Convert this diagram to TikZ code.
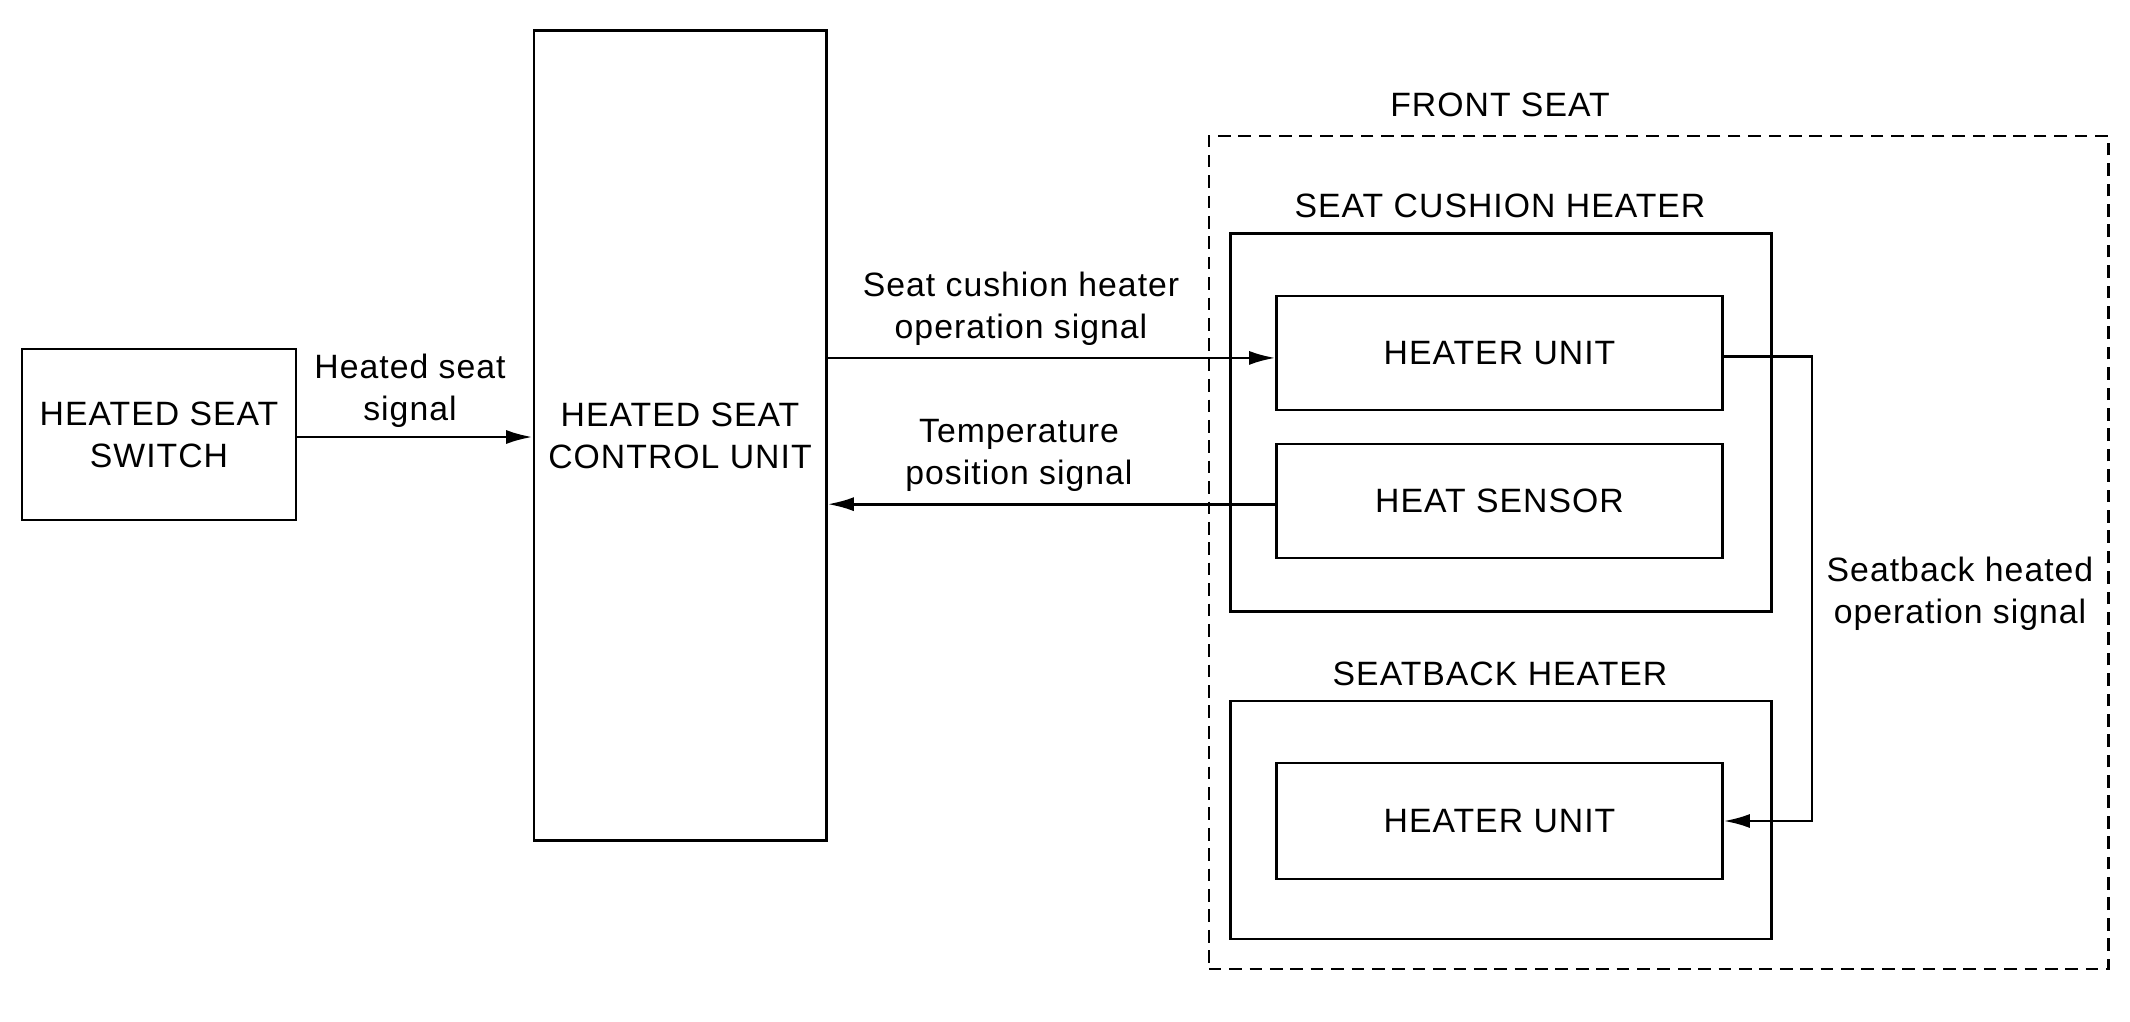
\documentclass[tikz,border=0pt]{standalone}
\usepackage{fontspec}
\setmainfont{Liberation Sans}[LetterSpace=3]
\usetikzlibrary{arrows.meta}
\begin{document}
\begin{tikzpicture}[x=0.01cm,y=-0.01cm,
  every node/.style={font=\fontsize{9.6}{12}\selectfont},
  box/.style={draw, line width=0.8pt, rectangle, inner sep=0pt, align=center},
  frame/.style={draw, line width=0.7pt, rectangle, inner sep=0pt, dash pattern=on 3.6pt off 2.2pt},
  lbl/.style={align=center, inner sep=0pt},
  arr/.style={line width=0.8pt, -{Latex[length=7.5pt,width=4pt]}}]
\useasboundingbox (0,0) rectangle (2130,1021);
% boxes
\node[box, minimum width=2.74cm, minimum height=1.71cm] (sw) at (159,434.5) {HEATED SEAT\\SWITCH};
\node[box, minimum width=2.92cm, minimum height=8.09cm] (cu) at (680,435.5) {HEATED SEAT\\CONTROL UNIT};
\node[frame, minimum width=8.99cm, minimum height=8.33cm] (fs) at (1658.5,552.5) {};
\node[box, minimum width=5.40cm, minimum height=3.77cm] (sch) at (1501,422.5) {};
\node[box, minimum width=5.40cm, minimum height=2.38cm] (sbh) at (1501,820) {};
\node[box, minimum width=4.45cm, minimum height=1.14cm] (hu1) at (1499.5,353) {HEATER UNIT};
\node[box, minimum width=4.45cm, minimum height=1.14cm] (hs) at (1499.5,501) {HEAT SENSOR};
\node[box, minimum width=4.45cm, minimum height=1.16cm] (hu2) at (1499.5,821) {HEATER UNIT};
% titles
\node[lbl] (tfs) at (1500,105) {FRONT SEAT};
\node[lbl] (tsch) at (1500,206) {SEAT CUSHION HEATER};
\node[lbl] (tsbh) at (1500,674) {SEATBACK HEATER};
% connector labels
\node[lbl] (l1) at (410,390.5) {Heated seat\\signal};
\node[lbl] (l2) at (1021,309) {Seat cushion heater\\operation signal};
\node[lbl] (l3) at (1019,455) {Temperature\\position signal};
\node[lbl] (l4) at (1960,593.5) {Seatback heated\\operation signal};
% connectors
\coordinate (bend) at (1812,0);
\draw[arr] (sw.east |- 0,437) -- (cu.west |- 0,437);
\draw[arr] ([yshift=-1.4pt]hu1.west -| cu.east) -- ([yshift=-1.4pt]hu1.west);
\draw[arr] ([yshift=-0.9pt]hs.west) -- ([yshift=-0.9pt]hs.west -| cu.east);
\draw[arr] ([yshift=-0.9pt]hu1.east) -- ([yshift=-0.9pt]hu1.east -| bend) -- (hu2.east -| bend) -- (hu2.east);
\end{tikzpicture}
\end{document}
